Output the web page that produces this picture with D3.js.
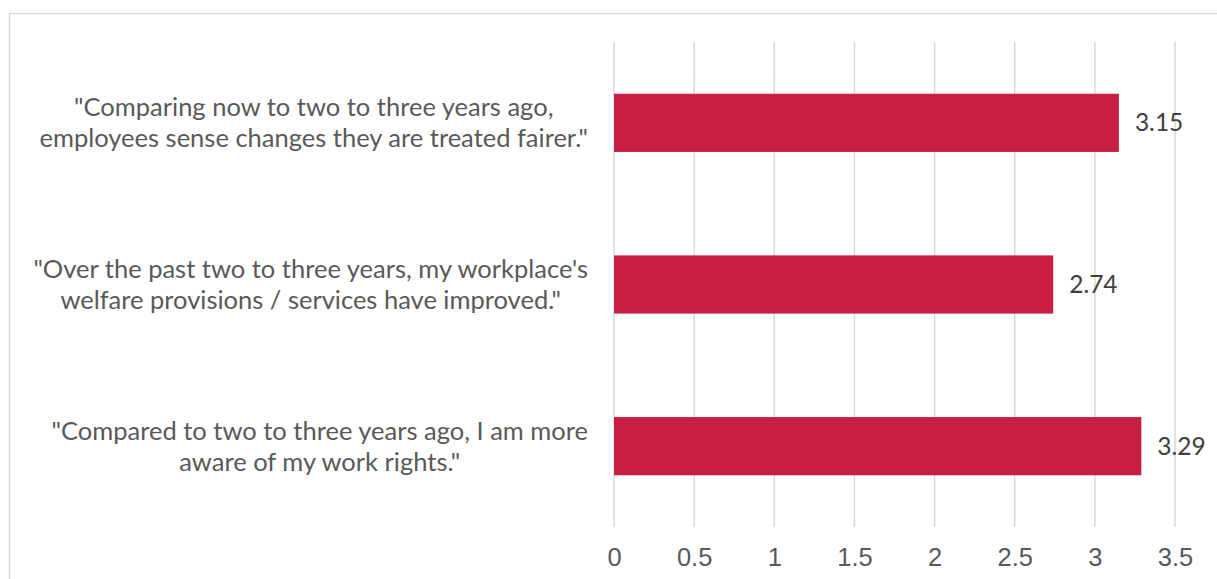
<!DOCTYPE html>
<html>
<head>
<meta charset="utf-8">
<script src="https://cdn.jsdelivr.net/npm/d3@7"></script>
<style>
  html, body { margin: 0; padding: 0; background: #fff; }
  svg { display: block; font-family: Lato, "Open Sans", sans-serif; }
</style>
</head>
<body>
<svg id="chart" width="1217" height="579"></svg>
<script>
// statements, top to bottom
const categories = [
    ["\"Comparing now to two to three years ago,", "employees sense changes they are treated fairer.\""],
    ["\"Over the past two to three years, my workplace's", "welfare provisions / services have improved.\""],
    ["\"Compared to two to three years ago, I am more", "aware of my work rights.\""]
];
const values = [3.15, 2.74, 3.29];
const ticks = [0, 0.5, 1, 1.5, 2, 2.5, 3, 3.5];

const svg = d3.select("#chart");
const plot = { left: 614, right: 1175, top: 42, bottom: 527 };
const fontSize = 25.5;

// outer chart frame (runs past the window on right and bottom)
svg.append("rect")
    .attr("x", 9.5).attr("y", 13.5)
    .attr("width", 1240).attr("height", 600)
    .attr("fill", "none").attr("stroke", "#d9d9d9").attr("stroke-width", 1.5);

const x = d3.scaleLinear().domain([0, 3.5]).range([plot.left, plot.right]);
const y = d3.scaleBand()
    .domain(d3.range(categories.length))
    .range([plot.top, plot.bottom])
    .paddingInner(0.64).paddingOuter(0.32);

// tick labels via axis
const axis = d3.axisBottom(x).tickValues(ticks).tickFormat(d3.format("")).tickSize(0).tickPadding(0);
const gx = svg.append("g").attr("transform", `translate(0,${plot.bottom + 30})`).call(axis);
gx.select(".domain").remove();
gx.selectAll("text")
    .attr("fill", "#595959").attr("font-size", fontSize).attr("dy", "0.35em");

// vertical gridlines
svg.append("g").selectAll("line")
    .data(ticks)
    .join("line")
    .attr("x1", d => x(d)).attr("x2", d => x(d))
    .attr("y1", plot.top).attr("y2", plot.bottom)
    .attr("stroke", "#d9d9d9").attr("stroke-width", 1.5);

// bars
svg.append("g").selectAll("rect")
    .data(values)
    .join("rect")
    .attr("x", x(0))
    .attr("y", (d, i) => y(i))
    .attr("width", d => x(d) - x(0))
    .attr("height", y.bandwidth())
    .attr("fill", "#c81e41");

// value labels
svg.append("g").selectAll("text")
    .data(values)
    .join("text")
    .attr("x", d => x(d) + 16)
    .attr("y", (d, i) => y(i) + y.bandwidth() / 2)
    .attr("dy", "0.35em")
    .attr("font-size", fontSize - 1).attr("fill", "#404040")
    .text(d => d3.format(".2f")(d));

// category labels: block right-aligned, lines centered inside it
const labelRight = 588, lineH = 31;
categories.forEach((lines, i) => {
    const g = svg.append("g");
    const cy = y(i) + y.bandwidth() / 2;
    const texts = lines.map((s, k) => g.append("text")
        .attr("y", cy + (k - (lines.length - 1) / 2) * lineH)
        .attr("dy", "0.35em")
        .attr("font-size", fontSize).attr("fill", "#595959")
        .attr("text-anchor", "middle")
        .text(s));
    const w = d3.max(texts, t => t.node().getComputedTextLength());
    texts.forEach(t => t.attr("x", labelRight - w / 2));
});
</script>
</body>
</html>
